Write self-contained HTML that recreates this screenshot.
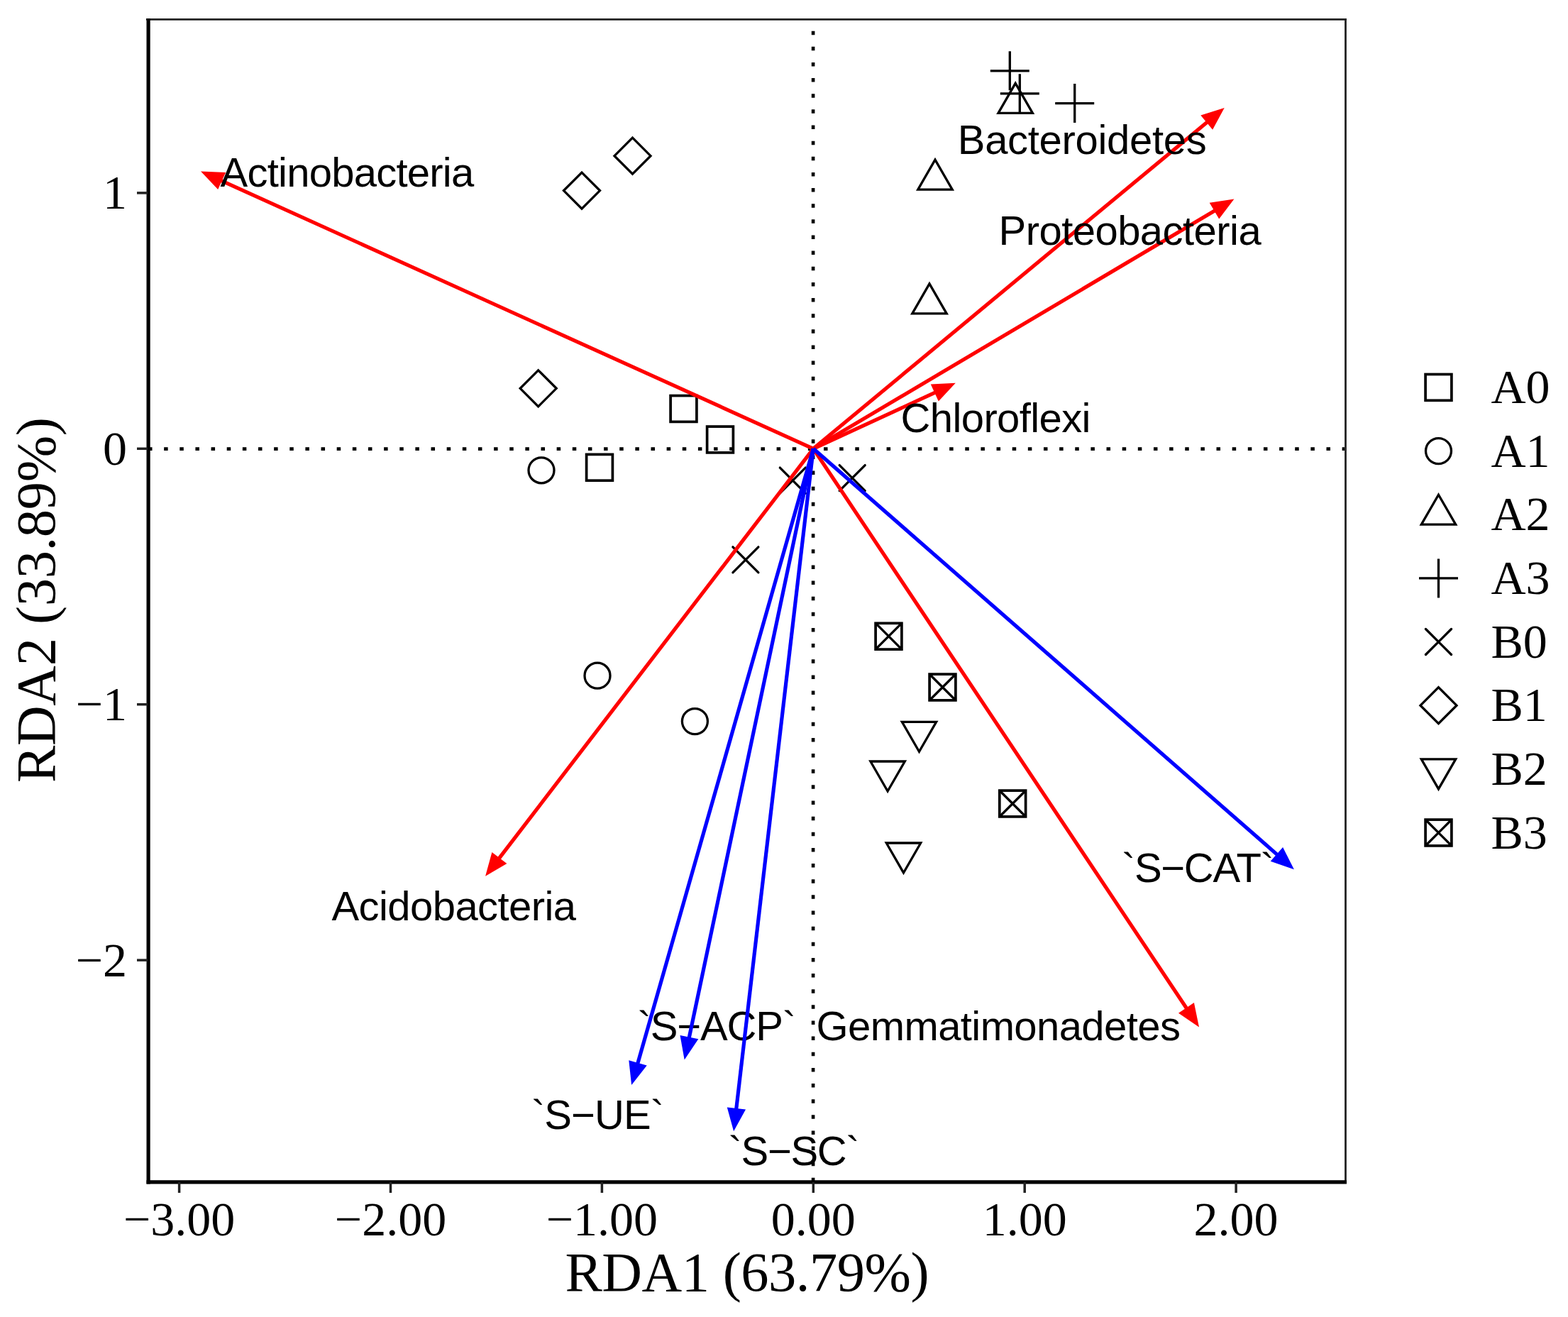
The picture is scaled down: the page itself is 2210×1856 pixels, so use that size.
<!DOCTYPE html><html><head><meta charset="utf-8"><style>html,body{margin:0;padding:0;background:#fff;}svg{display:block}</style></head><body>
<svg width="2210" height="1856" viewBox="0 0 2210 1856">
<rect width="2210" height="1856" fill="#fff"/>
<line x1="1146.1" y1="28" x2="1146.1" y2="1665" stroke="#000" stroke-width="4.6" stroke-dasharray="5.5 16.64" stroke-dashoffset="6.49"/>
<line x1="211" y1="632.6" x2="1895" y2="632.6" stroke="#000" stroke-width="4.6" stroke-dasharray="5.5 16.64" stroke-dashoffset="1.99"/>
<rect x="945.1" y="557.6" width="36.8" height="36.8" fill="none" stroke="#000" stroke-width="3.7"/>
<rect x="996.6" y="601.1" width="36.8" height="36.8" fill="none" stroke="#000" stroke-width="3.7"/>
<rect x="826.6" y="640.4" width="36.8" height="36.8" fill="none" stroke="#000" stroke-width="3.7"/>
<circle cx="763.0" cy="662.8" r="18" fill="none" stroke="#000" stroke-width="3.3"/>
<circle cx="842.0" cy="952.2" r="18" fill="none" stroke="#000" stroke-width="3.3"/>
<circle cx="979.4" cy="1016.6" r="18" fill="none" stroke="#000" stroke-width="3.3"/>
<polygon points="1318.0,225.1 1342.2,267.1 1293.8,267.1" fill="none" stroke="#000" stroke-width="3.3"/>
<polygon points="1310.0,399.9 1334.2,441.9 1285.8,441.9" fill="none" stroke="#000" stroke-width="3.3"/>
<polygon points="1431.2,117.4 1455.4,159.4 1407.0,159.4" fill="none" stroke="#000" stroke-width="3.3"/>
<path d="M1395.8,99.8H1450.8M1423.3,72.3V127.3" fill="none" stroke="#000" stroke-width="3.3"/>
<path d="M1409.8,131.8H1464.8M1437.3,104.3V159.3" fill="none" stroke="#000" stroke-width="3.3"/>
<path d="M1487.2,145.6H1542.2M1514.7,118.1V173.1" fill="none" stroke="#000" stroke-width="3.3"/>
<path d="M1099.3,659.1L1135.3,695.1M1099.3,695.1L1135.3,659.1" fill="none" stroke="#000" stroke-width="3.3" stroke-linecap="round"/>
<path d="M1183.2,655.6L1219.2,691.6M1183.2,691.6L1219.2,655.6" fill="none" stroke="#000" stroke-width="3.3" stroke-linecap="round"/>
<path d="M1032.9,770.8L1068.9,806.8M1032.9,806.8L1068.9,770.8" fill="none" stroke="#000" stroke-width="3.3" stroke-linecap="round"/>
<polygon points="820.0,243.1 845.5,268.6 820.0,294.1 794.5,268.6" fill="none" stroke="#000" stroke-width="3.3"/>
<polygon points="891.5,194.2 917.0,219.7 891.5,245.2 866.0,219.7" fill="none" stroke="#000" stroke-width="3.3"/>
<polygon points="758.7,521.8 784.2,547.3 758.7,572.8 733.2,547.3" fill="none" stroke="#000" stroke-width="3.3"/>
<polygon points="1295.5,1059.3 1319.7,1017.3 1271.3,1017.3" fill="none" stroke="#000" stroke-width="3.3"/>
<polygon points="1251.1,1115.0 1275.3,1073.0 1226.9,1073.0" fill="none" stroke="#000" stroke-width="3.3"/>
<polygon points="1273.5,1230.0 1297.7,1188.0 1249.3,1188.0" fill="none" stroke="#000" stroke-width="3.3"/>
<rect x="1234.1" y="878.3" width="36.8" height="36.8" fill="none" stroke="#000" stroke-width="3.7"/><path d="M1234.5,878.7L1270.5,914.7M1234.5,914.7L1270.5,878.7" fill="none" stroke="#000" stroke-width="3.3"/>
<rect x="1310.1" y="950.1" width="36.8" height="36.8" fill="none" stroke="#000" stroke-width="3.7"/><path d="M1310.5,950.5L1346.5,986.5M1310.5,986.5L1346.5,950.5" fill="none" stroke="#000" stroke-width="3.3"/>
<rect x="1408.8" y="1114.1" width="36.8" height="36.8" fill="none" stroke="#000" stroke-width="3.7"/><path d="M1409.2,1114.5L1445.2,1150.5M1409.2,1150.5L1445.2,1114.5" fill="none" stroke="#000" stroke-width="3.3"/>
<line x1="1146.3" y1="632.3" x2="310.8" y2="254.1" stroke="#f00" stroke-width="5.2"/><polygon points="283.0,241.5 318.1,242.9 307.2,266.9" fill="#f00"/>
<line x1="1146.3" y1="632.3" x2="1702.2" y2="171.4" stroke="#f00" stroke-width="5.2"/><polygon points="1725.7,151.9 1709.1,182.8 1692.3,162.5" fill="#f00"/>
<line x1="1146.3" y1="632.3" x2="1713.2" y2="296.2" stroke="#f00" stroke-width="5.2"/><polygon points="1739.4,280.6 1718.2,308.5 1704.7,285.8" fill="#f00"/>
<line x1="1146.3" y1="632.3" x2="1319.1" y2="552.6" stroke="#f00" stroke-width="5.2"/><polygon points="1346.8,539.8 1322.8,565.4 1311.8,541.4" fill="#f00"/>
<line x1="1146.3" y1="632.3" x2="702.7" y2="1210.6" stroke="#f00" stroke-width="5.2"/><polygon points="684.1,1234.8 693.4,1201.0 714.4,1217.0" fill="#f00"/>
<line x1="1146.3" y1="632.3" x2="1673.1" y2="1422.0" stroke="#f00" stroke-width="5.2"/><polygon points="1690.0,1447.4 1661.0,1427.7 1682.9,1413.0" fill="#f00"/>
<text x="310.5" y="263.0" font-family="&quot;Liberation Sans&quot;, Arial, sans-serif" font-size="58" textLength="357.7" lengthAdjust="spacing">Actinobacteria</text>
<text x="1349.8" y="216.7" font-family="&quot;Liberation Sans&quot;, Arial, sans-serif" font-size="58" textLength="350.9" lengthAdjust="spacing">Bacteroidetes</text>
<text x="1407.5" y="344.5" font-family="&quot;Liberation Sans&quot;, Arial, sans-serif" font-size="58" textLength="370.2" lengthAdjust="spacing">Proteobacteria</text>
<text x="1269.5" y="608.6" font-family="&quot;Liberation Sans&quot;, Arial, sans-serif" font-size="58" textLength="268.0" lengthAdjust="spacing">Chloroflexi</text>
<text x="467.5" y="1297.0" font-family="&quot;Liberation Sans&quot;, Arial, sans-serif" font-size="58" textLength="344.6" lengthAdjust="spacing">Acidobacteria</text>
<text x="1150.5" y="1465.5" font-family="&quot;Liberation Sans&quot;, Arial, sans-serif" font-size="58" textLength="513.4" lengthAdjust="spacing">Gemmatimonadetes</text>
<text x="1581.0" y="1242.7" font-family="&quot;Liberation Sans&quot;, Arial, sans-serif" font-size="58" textLength="214.9" lengthAdjust="spacing">`S−CAT`</text>
<text x="749.0" y="1591.2" font-family="&quot;Liberation Sans&quot;, Arial, sans-serif" font-size="58" textLength="187.0" lengthAdjust="spacing">`S−UE`</text>
<text x="898.5" y="1466.4" font-family="&quot;Liberation Sans&quot;, Arial, sans-serif" font-size="58" textLength="223.7" lengthAdjust="spacing">`S−ACP`</text>
<text x="1026.5" y="1642.0" font-family="&quot;Liberation Sans&quot;, Arial, sans-serif" font-size="58" textLength="185.2" lengthAdjust="spacing">`S−SC`</text>
<line x1="1146.3" y1="632.3" x2="1800.9" y2="1205.1" stroke="#00f" stroke-width="5.2"/><polygon points="1823.9,1225.2 1790.7,1213.7 1808.1,1193.9" fill="#00f"/>
<line x1="1146.3" y1="632.3" x2="898.5" y2="1499.8" stroke="#00f" stroke-width="5.2"/><polygon points="890.1,1529.1 886.3,1494.2 911.7,1501.5" fill="#00f"/>
<line x1="1146.3" y1="632.3" x2="971.0" y2="1463.6" stroke="#00f" stroke-width="5.2"/><polygon points="964.7,1493.4 958.5,1458.9 984.3,1464.3" fill="#00f"/>
<line x1="1146.3" y1="632.3" x2="1037.6" y2="1564.0" stroke="#00f" stroke-width="5.2"/><polygon points="1034.1,1594.3 1024.8,1560.5 1051.0,1563.5" fill="#00f"/>
<line x1="206" y1="27.3" x2="1898" y2="27.3" stroke="#222" stroke-width="2.7"/>
<line x1="1896.5" y1="26" x2="1896.5" y2="1668" stroke="#222" stroke-width="2.8"/>
<line x1="209.1" y1="26" x2="209.1" y2="1668.4" stroke="#000" stroke-width="5.2"/>
<line x1="206.5" y1="1665.8" x2="1898" y2="1665.8" stroke="#000" stroke-width="5.2"/>
<line x1="252.6" y1="1666" x2="252.6" y2="1681" stroke="#222" stroke-width="3.5"/>
<text x="252.6" y="1740.5" font-family="&quot;Liberation Serif&quot;, &quot;Times New Roman&quot;, serif" font-size="68" text-anchor="middle">−3.00</text>
<line x1="550.5" y1="1666" x2="550.5" y2="1681" stroke="#222" stroke-width="3.5"/>
<text x="550.5" y="1740.5" font-family="&quot;Liberation Serif&quot;, &quot;Times New Roman&quot;, serif" font-size="68" text-anchor="middle">−2.00</text>
<line x1="848.4" y1="1666" x2="848.4" y2="1681" stroke="#222" stroke-width="3.5"/>
<text x="848.4" y="1740.5" font-family="&quot;Liberation Serif&quot;, &quot;Times New Roman&quot;, serif" font-size="68" text-anchor="middle">−1.00</text>
<line x1="1146.3" y1="1666" x2="1146.3" y2="1681" stroke="#222" stroke-width="3.5"/>
<text x="1146.3" y="1740.5" font-family="&quot;Liberation Serif&quot;, &quot;Times New Roman&quot;, serif" font-size="68" text-anchor="middle">0.00</text>
<line x1="1444.2" y1="1666" x2="1444.2" y2="1681" stroke="#222" stroke-width="3.5"/>
<text x="1444.2" y="1740.5" font-family="&quot;Liberation Serif&quot;, &quot;Times New Roman&quot;, serif" font-size="68" text-anchor="middle">1.00</text>
<line x1="1742.1" y1="1666" x2="1742.1" y2="1681" stroke="#222" stroke-width="3.5"/>
<text x="1742.1" y="1740.5" font-family="&quot;Liberation Serif&quot;, &quot;Times New Roman&quot;, serif" font-size="68" text-anchor="middle">2.00</text>
<line x1="193" y1="271.9" x2="208" y2="271.9" stroke="#222" stroke-width="3.5"/>
<text x="179" y="294.4" font-family="&quot;Liberation Serif&quot;, &quot;Times New Roman&quot;, serif" font-size="68" text-anchor="end">1</text>
<line x1="193" y1="632.3" x2="208" y2="632.3" stroke="#222" stroke-width="3.5"/>
<text x="179" y="654.8" font-family="&quot;Liberation Serif&quot;, &quot;Times New Roman&quot;, serif" font-size="68" text-anchor="end">0</text>
<line x1="193" y1="992.7" x2="208" y2="992.7" stroke="#222" stroke-width="3.5"/>
<text x="179" y="1015.2" font-family="&quot;Liberation Serif&quot;, &quot;Times New Roman&quot;, serif" font-size="68" text-anchor="end">−1</text>
<line x1="193" y1="1353.1" x2="208" y2="1353.1" stroke="#222" stroke-width="3.5"/>
<text x="179" y="1375.6" font-family="&quot;Liberation Serif&quot;, &quot;Times New Roman&quot;, serif" font-size="68" text-anchor="end">−2</text>
<text x="796.5" y="1818.6" font-family="&quot;Liberation Serif&quot;, &quot;Times New Roman&quot;, serif" font-size="78.5" textLength="513.1" lengthAdjust="spacing">RDA1 (63.79%)</text>
<text transform="translate(76.9,1103.0) rotate(-90)" x="0" y="0" font-family="&quot;Liberation Serif&quot;, &quot;Times New Roman&quot;, serif" font-size="78.5" textLength="514.9" lengthAdjust="spacing">RDA2 (33.89%)</text>
<rect x="2009.1" y="527.5" width="36.8" height="36.8" fill="none" stroke="#000" stroke-width="3.7"/>
<text x="2101.5" y="567.9" font-family="&quot;Liberation Serif&quot;, &quot;Times New Roman&quot;, serif" font-size="68">A0</text>
<circle cx="2027.5" cy="635.6" r="18" fill="none" stroke="#000" stroke-width="3.3"/>
<text x="2101.5" y="657.6" font-family="&quot;Liberation Serif&quot;, &quot;Times New Roman&quot;, serif" font-size="68">A1</text>
<polygon points="2027.5,697.2 2051.7,739.2 2003.3,739.2" fill="none" stroke="#000" stroke-width="3.3"/>
<text x="2101.5" y="747.2" font-family="&quot;Liberation Serif&quot;, &quot;Times New Roman&quot;, serif" font-size="68">A2</text>
<path d="M2000.0,814.9H2055.0M2027.5,787.4V842.4" fill="none" stroke="#000" stroke-width="3.3"/>
<text x="2101.5" y="836.9" font-family="&quot;Liberation Serif&quot;, &quot;Times New Roman&quot;, serif" font-size="68">A3</text>
<path d="M2009.5,886.5L2045.5,922.5M2009.5,922.5L2045.5,886.5" fill="none" stroke="#000" stroke-width="3.3" stroke-linecap="round"/>
<text x="2101.5" y="926.5" font-family="&quot;Liberation Serif&quot;, &quot;Times New Roman&quot;, serif" font-size="68">B0</text>
<polygon points="2027.5,968.7 2053.0,994.2 2027.5,1019.7 2002.0,994.2" fill="none" stroke="#000" stroke-width="3.3"/>
<text x="2101.5" y="1016.2" font-family="&quot;Liberation Serif&quot;, &quot;Times New Roman&quot;, serif" font-size="68">B1</text>
<polygon points="2027.5,1111.9 2051.7,1069.9 2003.3,1069.9" fill="none" stroke="#000" stroke-width="3.3"/>
<text x="2101.5" y="1105.9" font-family="&quot;Liberation Serif&quot;, &quot;Times New Roman&quot;, serif" font-size="68">B2</text>
<rect x="2009.1" y="1155.1" width="36.8" height="36.8" fill="none" stroke="#000" stroke-width="3.7"/><path d="M2009.5,1155.5L2045.5,1191.5M2009.5,1191.5L2045.5,1155.5" fill="none" stroke="#000" stroke-width="3.3"/>
<text x="2101.5" y="1195.5" font-family="&quot;Liberation Serif&quot;, &quot;Times New Roman&quot;, serif" font-size="68">B3</text>
</svg></body></html>
